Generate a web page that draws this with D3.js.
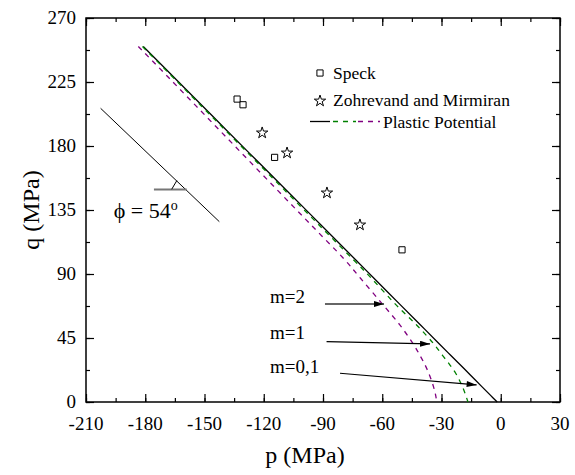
<!DOCTYPE html>
<html>
<head>
<meta charset="utf-8">
<script src="https://cdn.jsdelivr.net/npm/d3@7"></script>
<style>
  body { margin: 0; background: #fff; }
</style>
</head>
<body>
<div id="chart"></div>
<script>
// experimental points (p, q) in MPa
const speckP = [-133.5, -130.5, -114.5, -50];
const speckQ = [213, 209, 172, 107];
const zmP = [-120.8, -108.2, -88, -71.3];
const zmQ = [189.2, 175.1, 147, 124.5];

// plastic potential curves, q values shared
const curveQ  = [250, 225, 200, 175, 150, 125, 100, 87, 69, 54, 41, 33, 26, 19, 11, 5, 0];
const pM01 = [-181, -163.1, -145.2, -127.3, -109.3, -91.4, -73.5, -64.2, -51.3, -40.5, -31.2, -25.5, -20.4, -15.4, -9.7, -5.4, -1.8];
const pM1  = [-181.4, -163.6, -145.8, -128, -110.2, -92.4, -74.6, -65.5, -53.5, -42.5, -34, -29.6, -25.7, -22.3, -19.5, -17.8, -16.6];
const pM2  = [-183.5, -166, -148.6, -131.2, -113.8, -96.4, -79, -71, -60, -51, -44.4, -41, -38.3, -36.1, -34.1, -33, -32.4];

const xTicks = [-210, -180, -150, -120, -90, -60, -30, 0, 30];
const yTicks = [0, 45, 90, 135, 180, 225, 270];

const width = 575, height = 475;
const margin = {top: 18, right: 15, bottom: 73, left: 86};
const FONT = "Liberation Serif";

const x = d3.scaleLinear().domain([-210, 30]).range([margin.left, width - margin.right]);
const y = d3.scaleLinear().domain([0, 270]).range([height - margin.bottom, margin.top]);

const svg = d3.select("#chart").append("svg")
  .attr("width", width)
  .attr("height", height)
  .attr("font-family", FONT);

// ticks on all four sides, pointing inward
const xMinor = d3.range(-210, 31, 15);
const yMinor = d3.range(0, 271, 22.5);

function tickG(axis, tr) {
  return svg.append("g").attr("transform", tr).call(axis)
    .call(g => g.select(".domain").remove())
    .call(g => g.selectAll(".tick line").attr("stroke", "#000").attr("stroke-width", 1.2));
}

tickG(d3.axisTop(x).tickValues(xMinor).tickSize(4).tickFormat(""), `translate(0,${y(0)})`);
tickG(d3.axisTop(x).tickValues(xTicks).tickSize(8).tickFormat(""), `translate(0,${y(0)})`);
tickG(d3.axisBottom(x).tickValues(xMinor).tickSize(4).tickFormat(""), `translate(0,${y(270)})`);
tickG(d3.axisBottom(x).tickValues(xTicks).tickSize(8).tickFormat(""), `translate(0,${y(270)})`);
tickG(d3.axisRight(y).tickValues(yMinor).tickSize(4).tickFormat(""), `translate(${x(-210)},0)`);
tickG(d3.axisRight(y).tickValues(yTicks).tickSize(8).tickFormat(""), `translate(${x(-210)},0)`);
tickG(d3.axisLeft(y).tickValues(yMinor).tickSize(4).tickFormat(""), `translate(${x(30)},0)`);
tickG(d3.axisLeft(y).tickValues(yTicks).tickSize(8).tickFormat(""), `translate(${x(30)},0)`);

// tick labels
svg.append("g").selectAll("text").data(xTicks).join("text")
  .attr("x", d => x(d)).attr("y", y(0) + 28)
  .attr("font-family", FONT)
  .attr("text-anchor", "middle").attr("font-size", 19).text(d => d);
svg.append("g").selectAll("text").data(yTicks).join("text")
  .attr("x", x(-210) - 10).attr("y", d => y(d) + 6)
  .attr("font-family", FONT)
  .attr("text-anchor", "end").attr("font-size", 19).text(d => d);

// frame
svg.append("rect")
  .attr("x", x(-210)).attr("y", y(270))
  .attr("width", x(30) - x(-210)).attr("height", y(0) - y(270))
  .attr("fill", "none").attr("stroke", "#000").attr("stroke-width", 1.5);

// axis titles
svg.append("text").attr("x", 305).attr("y", 463)
  .attr("font-family", FONT)
  .attr("text-anchor", "middle").attr("font-size", 24).text("p (MPa)");
svg.append("text").attr("transform", `translate(39,${(y(0) + y(270)) / 2}) rotate(-90)`)
  .attr("font-family", FONT)
  .attr("text-anchor", "middle").attr("font-size", 24).text("q (MPa)");

// curves
const line = d3.line().x(d => x(d[0])).y(d => y(d[1])).curve(d3.curveCatmullRom);
const curves = [
  {p: pM01, color: "#000", dash: null},
  {p: pM1, color: "#008000", dash: "5,5"},
  {p: pM2, color: "#800080", dash: "5,5"}
];
svg.append("g").selectAll("path").data(curves).join("path")
  .attr("d", c => line(c.p.map((p, i) => [p, curveQ[i]])))
  .attr("fill", "none")
  .attr("stroke", c => c.color)
  .attr("stroke-width", 1.3)
  .attr("stroke-dasharray", c => c.dash);

// markers
const sq = d3.symbol().type(d3.symbolSquare).size(38);
const star = d3.symbol().type(d3.symbolStar).size(40);
svg.append("g").selectAll("path").data(speckP).join("path")
  .attr("transform", (d, i) => `translate(${x(d)},${y(speckQ[i])})`)
  .attr("d", sq).attr("fill", "none").attr("stroke", "#000").attr("stroke-width", 1);
svg.append("g").selectAll("path").data(zmP).join("path")
  .attr("transform", (d, i) => `translate(${x(d)},${y(zmQ[i])})`)
  .attr("d", star).attr("fill", "none").attr("stroke", "#000").attr("stroke-width", 1);

// friction angle annotation
svg.append("line")
  .attr("x1", x(-202.6)).attr("y1", y(206.5))
  .attr("x2", x(-142.5)).attr("y2", y(126.8))
  .attr("stroke", "#000").attr("stroke-width", 1);
svg.append("line")
  .attr("x1", x(-175.6)).attr("y1", y(149.4))
  .attr("x2", x(-159)).attr("y2", y(149.4))
  .attr("stroke", "#777").attr("stroke-width", 2);
svg.append("line")
  .attr("x1", x(-166.6)).attr("y1", y(149.6))
  .attr("x2", x(-164)).attr("y2", y(155.7))
  .attr("stroke", "#000").attr("stroke-width", 1);
const phi = svg.append("text").attr("x", x(-196)).attr("y", y(129.4))
  .attr("font-family", FONT).attr("font-size", 22);
phi.append("tspan").text("\u03d5 = 54");
phi.append("tspan").attr("dy", -8).attr("font-size", 14).text("o");

// m labels with arrows
svg.append("defs").append("marker")
  .attr("id", "ah").attr("viewBox", "0 0 10 6").attr("refX", 10).attr("refY", 3)
  .attr("markerWidth", 11).attr("markerHeight", 6).attr("markerUnits", "userSpaceOnUse")
  .attr("orient", "auto")
  .append("path").attr("d", "M0,0L10,3L0,6Z").attr("fill", "#000");

const mLabels = ["m=2", "m=1", "m=0,1"];
const mTextQ = [69.8, 44.5, 20.2];
const mArrow = [[-89, 68.9, -59.1, 68.9], [-88.2, 42.4, -35.8, 40.8], [-81.4, 20.2, -12.2, 12.0]];
const mColor = ["#666", "#000", "#000"];
svg.append("g").selectAll("text").data(mLabels).join("text")
  .attr("x", x(-116.8)).attr("y", (d, i) => y(mTextQ[i]))
  .attr("font-family", FONT)
  .attr("font-size", 19).text(d => d);
svg.append("g").selectAll("line").data(mArrow).join("line")
  .attr("x1", d => x(d[0])).attr("y1", d => y(d[1]))
  .attr("x2", d => x(d[2])).attr("y2", d => y(d[3]))
  .attr("stroke", (d, i) => mColor[i]).attr("stroke-width", (d, i) => i === 0 ? 2 : 1.2)
  .attr("marker-end", "url(#ah)");

// legend
const lg = svg.append("g").attr("font-size", 17.5).attr("font-family", FONT);
lg.append("path").attr("transform", "translate(320,73)").attr("d", sq)
  .attr("fill", "none").attr("stroke", "#000");
lg.append("text").attr("x", 333).attr("y", 79).text("Speck");
lg.append("path").attr("transform", "translate(320,101)").attr("d", star)
  .attr("fill", "none").attr("stroke", "#000");
lg.append("text").attr("x", 333).attr("y", 106).text("Zohrevand and Mirmiran");
lg.append("line").attr("x1", 310).attr("x2", 330).attr("y1", 121.5).attr("y2", 121.5)
  .attr("stroke", "#000").attr("stroke-width", 1.3);
lg.append("line").attr("x1", 333).attr("x2", 356).attr("y1", 121.5).attr("y2", 121.5)
  .attr("stroke", "#008000").attr("stroke-width", 1.3).attr("stroke-dasharray", "5,5");
lg.append("line").attr("x1", 358).attr("x2", 380).attr("y1", 121.5).attr("y2", 121.5)
  .attr("stroke", "#800080").attr("stroke-width", 1.3).attr("stroke-dasharray", "5,5");
lg.append("text").attr("x", 383).attr("y", 127.5).text("Plastic Potential");
</script>
</body>
</html>
